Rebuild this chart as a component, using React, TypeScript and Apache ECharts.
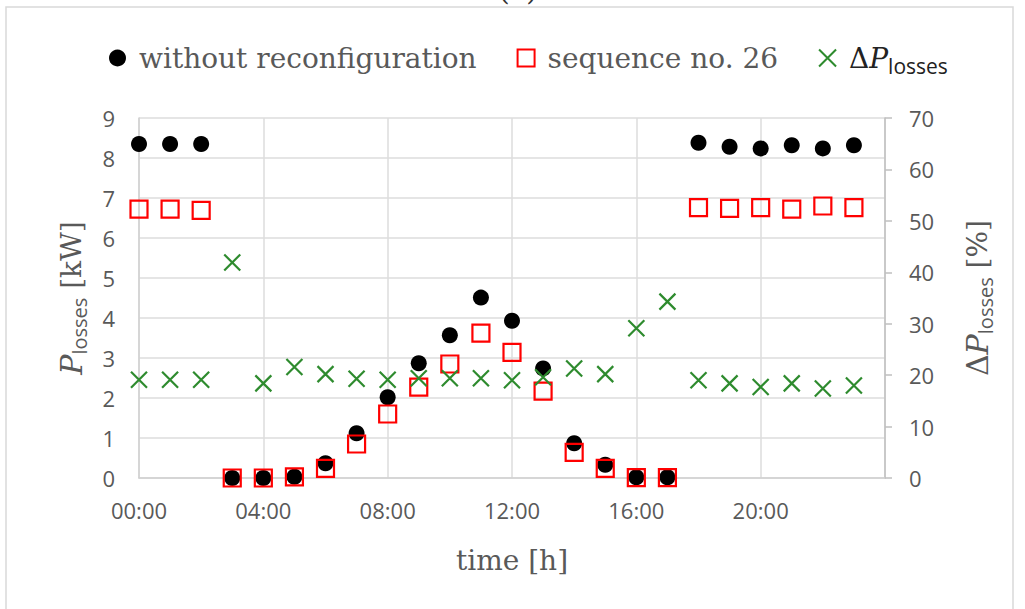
import React, { useEffect, useRef } from "react";
import * as echarts from "echarts";

const hours = [0, 1, 2, 3, 4, 5, 6, 7, 8, 9, 10, 11, 12, 13, 14, 15, 16, 17, 18, 19, 20, 21, 22, 23];
const withoutReconf = [8.35, 8.35, 8.35, 0.0, 0.0, 0.03, 0.37, 1.12, 2.02, 2.87, 3.57, 4.51, 3.93, 2.74, 0.87, 0.33, 0.02, 0.02, 8.38, 8.28, 8.24, 8.32, 8.24, 8.32];
const sequence26 = [6.72, 6.72, 6.69, 0.0, 0.0, 0.03, 0.24, 0.85, 1.6, 2.27, 2.85, 3.62, 3.14, 2.17, 0.64, 0.24, 0.01, 0.01, 6.76, 6.74, 6.76, 6.72, 6.8, 6.76];
const deltaLosses = [19.1, 19.1, 19.1, 41.9, 18.4, 21.6, 20.2, 19.3, 19.1, 19.4, 19.4, 19.4, 19.0, 19.6, 21.3, 20.2, 29.1, 34.3, 19.0, 18.4, 17.7, 18.4, 17.4, 18.0];
const xTickLabels = ["00:00", "04:00", "08:00", "12:00", "16:00", "20:00"];

const GRAY = "#595959";
const SERIF = "DejaVu Serif";
const SANS = "Open Sans";

export default function App() {
  const ref = useRef<HTMLDivElement>(null);
  useEffect(() => {
    if (!ref.current) return;
    const chart = echarts.init(ref.current, undefined, { renderer: "svg" });
    const pair = (arr: number[]) => hours.map((h, i) => [h, arr[i]]);
    chart.setOption({
      animation: false,
      backgroundColor: "#ffffff",
      graphic: [
        {
          type: "rect",
          shape: { x: 6, y: 7, width: 1007, height: 640 },
          style: { fill: "none", stroke: "#d9d9d9", lineWidth: 1.5 },
          silent: true,
        },
        {
          type: "text",
          x: 518,
          y: 4,
          style: { text: "(a)", fontFamily: SERIF, fontSize: 28, fill: "#333", align: "center", verticalAlign: "bottom" },
          silent: true,
        },
      ],
      legend: {
        top: 39,
        left: 104,
        itemWidth: 17,
        itemHeight: 17,
        itemGap: 40,
        data: [
          { name: "without reconfiguration", icon: "circle" },
          { name: "sequence no. 26", icon: "rect" },
          { name: "dP", icon: "path://M0,0L10,10M10,0L0,10" },
        ],
        textStyle: {
          fontFamily: SERIF,
          fontSize: 28,
          color: GRAY,
          padding: [0, 0, 0, 8],
          rich: {
            d: { fontFamily: SERIF, fontSize: 28, color: "#222", lineHeight: 36, verticalAlign: "middle" },
            p: { fontFamily: SERIF, fontStyle: "italic", fontSize: 28, color: "#222", lineHeight: 36, verticalAlign: "middle" },
            s: { fontFamily: SANS, fontSize: 21, color: "#222", lineHeight: 20, verticalAlign: "bottom" },
          },
        },
        formatter: (name: string) => (name === "dP" ? "{d|Δ}{p|P}{s|losses}" : name),
      },
      grid: { left: 139, right: 140, top: 118, bottom: 131 },
      xAxis: {
        type: "value",
        min: 0,
        max: 24,
        interval: 4,
        name: "time [h]",
        nameLocation: "middle",
        nameGap: 68,
        nameTextStyle: { fontFamily: SERIF, fontSize: 28, color: GRAY },
        axisLine: { show: true, lineStyle: { color: "#d0d0d0", width: 1.5 } },
        axisTick: { show: false },
        splitLine: { show: true, lineStyle: { color: "#dcdcdc", width: 1.5 } },
        axisLabel: {
          fontFamily: SANS,
          fontSize: 22,
          color: GRAY,
          margin: 21,
          formatter: (v: number) => xTickLabels[v / 4] ?? "",
        },
      },
      yAxis: [
        {
          type: "value",
          min: 0,
          max: 9,
          interval: 1,
          name: "{p|P}{s|losses}{u| [kW]}",
          nameLocation: "middle",
          nameRotate: 90,
          nameGap: 50,
          nameTextStyle: {
            rich: {
              p: { fontFamily: SERIF, fontStyle: "italic", fontSize: 30, color: GRAY, lineHeight: 36, verticalAlign: "middle" },
              s: { fontFamily: SANS, fontSize: 20, color: GRAY, lineHeight: 22, verticalAlign: "bottom" },
              u: { fontFamily: SERIF, fontSize: 28, color: GRAY, lineHeight: 36, verticalAlign: "middle" },
            },
          },
          axisLine: { show: true, lineStyle: { color: "#d0d0d0", width: 1.5 } },
          axisTick: { show: false },
          splitLine: { show: true, lineStyle: { color: "#dcdcdc", width: 1.5 } },
          axisLabel: { fontFamily: SANS, fontSize: 22, color: GRAY, margin: 24 },
        },
        {
          type: "value",
          min: 0,
          max: 70,
          interval: 10,
          position: "right",
          name: "{d|Δ}{p|P}{s|losses}{u| [%]}",
          nameLocation: "middle",
          nameRotate: 90,
          nameGap: 74,
          nameTextStyle: {
            rich: {
              d: { fontFamily: SERIF, fontSize: 30, color: GRAY, lineHeight: 36, verticalAlign: "middle" },
              p: { fontFamily: SERIF, fontStyle: "italic", fontSize: 30, color: GRAY, lineHeight: 36, verticalAlign: "middle" },
              s: { fontFamily: SANS, fontSize: 20, color: GRAY, lineHeight: 22, verticalAlign: "bottom" },
              u: { fontFamily: SERIF, fontSize: 28, color: GRAY, lineHeight: 36, verticalAlign: "middle" },
            },
          },
          axisLine: { show: true, lineStyle: { color: "#bfbfbf", width: 1.5 } },
          axisTick: { show: true, inside: false, length: 7, lineStyle: { color: "#bfbfbf", width: 1.5 } },
          splitLine: { show: false },
          axisLabel: { fontFamily: SANS, fontSize: 22, color: GRAY, margin: 24 },
        },
      ],
      series: [
        {
          name: "without reconfiguration",
          type: "scatter",
          yAxisIndex: 0,
          symbol: "circle",
          symbolSize: 16,
          itemStyle: { color: "#000000", opacity: 1 },
          data: pair(withoutReconf),
          z: 2,
        },
        {
          name: "sequence no. 26",
          type: "scatter",
          yAxisIndex: 0,
          symbol: "rect",
          symbolSize: 17,
          itemStyle: { color: "transparent", borderColor: "#ff0000", borderWidth: 2.2, opacity: 1 },
          data: pair(sequence26),
          z: 3,
        },
        {
          name: "dP",
          type: "scatter",
          yAxisIndex: 1,
          symbol: "path://M0,0L10,10M10,0L0,10",
          symbolSize: 16,
          itemStyle: { color: "transparent", borderColor: "#2e8b2e", borderWidth: 2.2, opacity: 1 },
          data: pair(deltaLosses),
          z: 4,
        },
      ],
    });
    return () => chart.dispose();
  }, []);
  return <div ref={ref} style={{ position: "absolute", left: 0, top: 0, width: 1025, height: 609 }} />;
}
